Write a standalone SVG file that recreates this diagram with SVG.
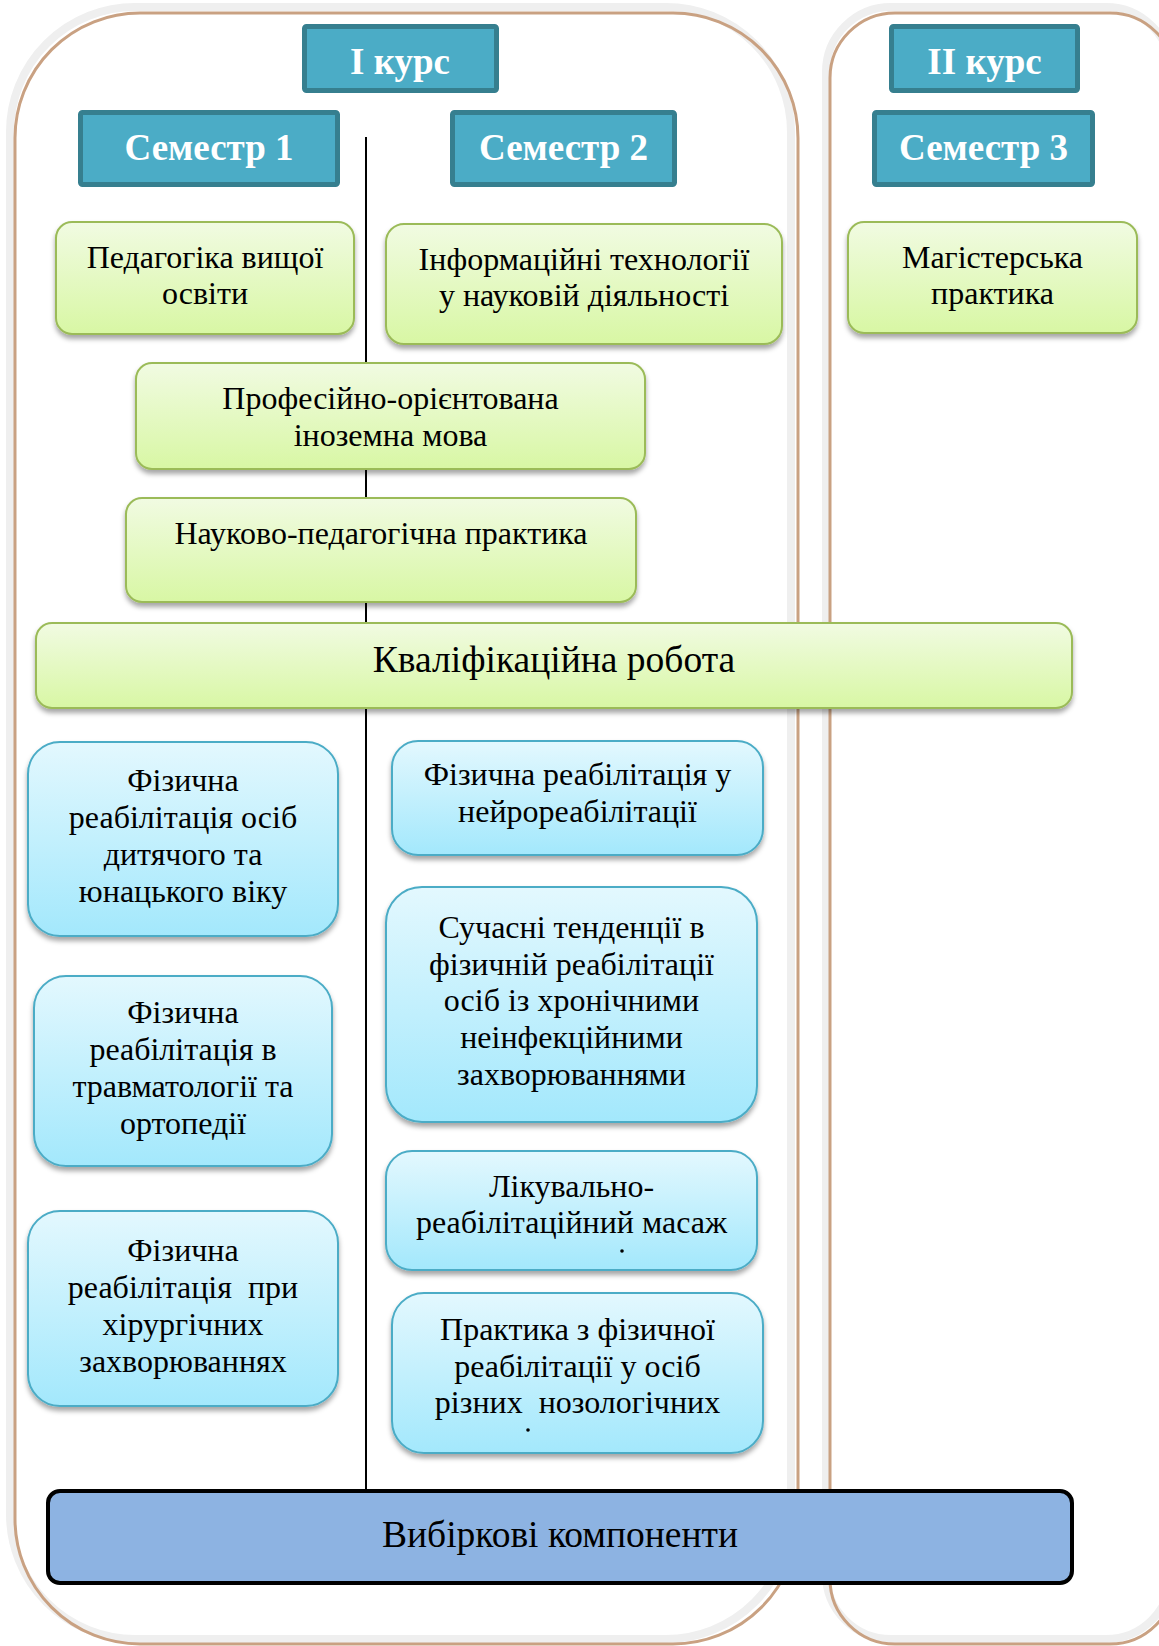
<svg xmlns="http://www.w3.org/2000/svg" width="1159" height="1646" viewBox="0 0 1159 1646">
<defs>
<linearGradient id="gGreen" x1="0" y1="0" x2="0" y2="1"><stop offset="0" stop-color="#f1fbe2"/><stop offset="1" stop-color="#d8f7a4"/></linearGradient>
<linearGradient id="gBlue" x1="0" y1="0" x2="0" y2="1"><stop offset="0" stop-color="#e3f8fe"/><stop offset="1" stop-color="#a3e8fc"/></linearGradient>
<filter id="sh" x="-10%" y="-10%" width="120%" height="130%"><feDropShadow dx="0" dy="4" stdDeviation="2.5" flood-color="#000" flood-opacity="0.35"/></filter>
<style>
.panelG{fill:#fff;stroke:#efefef;stroke-width:8}
.panelB{fill:none;stroke:#c9a182;stroke-width:3}
.hdr{fill:#4bacc6;stroke:#367f8f;stroke-width:5}
.hdrT{font-family:"Liberation Serif","Times New Roman",serif;font-weight:bold;font-size:37px;fill:#fff;text-anchor:middle}
.green{fill:url(#gGreen);stroke:#9bbb59;stroke-width:2;filter:url(#sh)}
.blue{fill:url(#gBlue);stroke:#4bacc6;stroke-width:2;filter:url(#sh)}
.t{font-family:"Liberation Serif","Times New Roman",serif;font-size:32px;fill:#000;text-anchor:middle;white-space:pre}
.tb{font-family:"Liberation Serif","Times New Roman",serif;font-size:32px;fill:#000;text-anchor:middle;white-space:pre}
.big{font-family:"Liberation Serif","Times New Roman",serif;font-size:37.5px;fill:#000;text-anchor:middle}
.conn{stroke:#000;stroke-width:2;fill:none}
.dot{fill:#000}
</style>
</defs>

<g id="panel-course1">
<rect class="panelG" x="10" y="7" width="781" height="1632" rx="125"/>
<rect class="panelB" x="15" y="13" width="783" height="1631" rx="125"/>
</g>
<g id="panel-course2">
<rect class="panelG" x="826" y="7" width="345" height="1632" rx="65"/>
<rect class="panelB" x="830" y="13" width="345" height="1631" rx="65"/>
</g>

<g id="connectors">
<line class="conn" x1="366" y1="137" x2="366" y2="1491"/>
</g>

<g id="course1"><rect class="hdr" x="304.5" y="26.5" width="192" height="64" rx="2"/><text class="hdrT" x="400" y="74">I курс</text></g>
<g id="course2"><rect class="hdr" x="891.5" y="26.5" width="186" height="64" rx="2"/><text class="hdrT" x="984.5" y="74">II курс</text></g>
<g id="sem1"><rect class="hdr" x="80.5" y="112.5" width="257" height="72" rx="2"/><text class="hdrT" x="209" y="160">Семестр 1</text></g>
<g id="sem2"><rect class="hdr" x="452.5" y="112.5" width="222" height="72" rx="2"/><text class="hdrT" x="563.5" y="160">Семестр 2</text></g>
<g id="sem3"><rect class="hdr" x="874.5" y="112.5" width="218" height="72" rx="2"/><text class="hdrT" x="983.5" y="160">Семестр 3</text></g>

<g id="pedagogika"><rect class="green" x="56" y="222" width="298" height="112" rx="16"/>
<text class="t" x="205" y="268">Педагогіка вищої</text><text class="t" x="205" y="304">освіти</text></g>
<g id="infotech"><rect class="green" x="386" y="224" width="396" height="120" rx="18"/>
<text class="t" x="584" y="270">Інформаційні технології</text><text class="t" x="584" y="306">у науковій діяльності</text></g>
<g id="magisterska"><rect class="green" x="848" y="222" width="289" height="111" rx="16"/>
<text class="t" x="992.5" y="268">Магістерська</text><text class="t" x="992.5" y="304">практика</text></g>
<g id="inozemna"><rect class="green" x="136" y="363" width="509" height="106" rx="16"/>
<text class="t" x="390.5" y="409">Професійно-орієнтована</text><text class="t" x="390.5" y="446">іноземна мова</text></g>
<g id="nauk-ped"><rect class="green" x="126" y="498" width="510" height="104" rx="16"/>
<text class="t" x="381" y="544">Науково-педагогічна практика</text></g>
<g id="kvalif"><rect class="green" x="36" y="623" width="1036" height="85" rx="16"/>
<text class="big" x="554" y="672">Кваліфікаційна робота</text></g>

<g id="fr-dit"><rect class="blue" x="28" y="742" width="310" height="194" rx="32"/>
<text class="tb" x="183" y="791">Фізична</text><text class="tb" x="183" y="828">реабілітація осіб</text><text class="tb" x="183" y="865">дитячого та</text><text class="tb" x="183" y="902">юнацького віку</text></g>
<g id="fr-trav"><rect class="blue" x="34" y="976" width="298" height="190" rx="32"/>
<text class="tb" x="183" y="1023">Фізична</text><text class="tb" x="183" y="1060">реабілітація в</text><text class="tb" x="183" y="1097">травматології та</text><text class="tb" x="183" y="1134">ортопедії</text></g>
<g id="fr-hir"><rect class="blue" x="28" y="1211" width="310" height="195" rx="32"/>
<text class="tb" x="183" y="1261">Фізична</text><text class="tb" x="183" y="1298">реабілітація  при</text><text class="tb" x="183" y="1335">хірургічних</text><text class="tb" x="183" y="1372">захворюваннях</text></g>
<g id="fr-neiro"><rect class="blue" x="392" y="741" width="371" height="114" rx="26"/>
<text class="tb" x="577.5" y="785">Фізична реабілітація у</text><text class="tb" x="577.5" y="822">нейрореабілітації</text></g>
<g id="suchasni"><rect class="blue" x="386" y="887" width="371" height="235" rx="36"/>
<text class="tb" x="571.5" y="938">Сучасні тенденції в</text><text class="tb" x="571.5" y="975">фізичній реабілітації</text><text class="tb" x="571.5" y="1011">осіб із хронічними</text><text class="tb" x="571.5" y="1048">неінфекційними</text><text class="tb" x="571.5" y="1085">захворюваннями</text></g>
<g id="masazh"><rect class="blue" x="386" y="1151" width="371" height="119" rx="26"/>
<text class="tb" x="571.5" y="1197">Лікувально-</text><text class="tb" x="571.5" y="1233">реабілітаційний масаж</text><circle class="dot" cx="622" cy="1251" r="1.8"/></g>
<g id="praktyka"><rect class="blue" x="392" y="1293" width="371" height="160" rx="32"/>
<text class="tb" x="577.5" y="1340">Практика з фізичної</text><text class="tb" x="577.5" y="1377">реабілітації у осіб</text><text class="tb" x="577.5" y="1413">різних  нозологічних</text><circle class="dot" cx="528" cy="1430" r="1.8"/></g>

<g id="vybirkovi"><rect x="48" y="1491" width="1024" height="92" rx="12" fill="#8db3e2" stroke="#000" stroke-width="4"/>
<text class="big" x="560" y="1547">Вибіркові компоненти</text></g>
</svg>
